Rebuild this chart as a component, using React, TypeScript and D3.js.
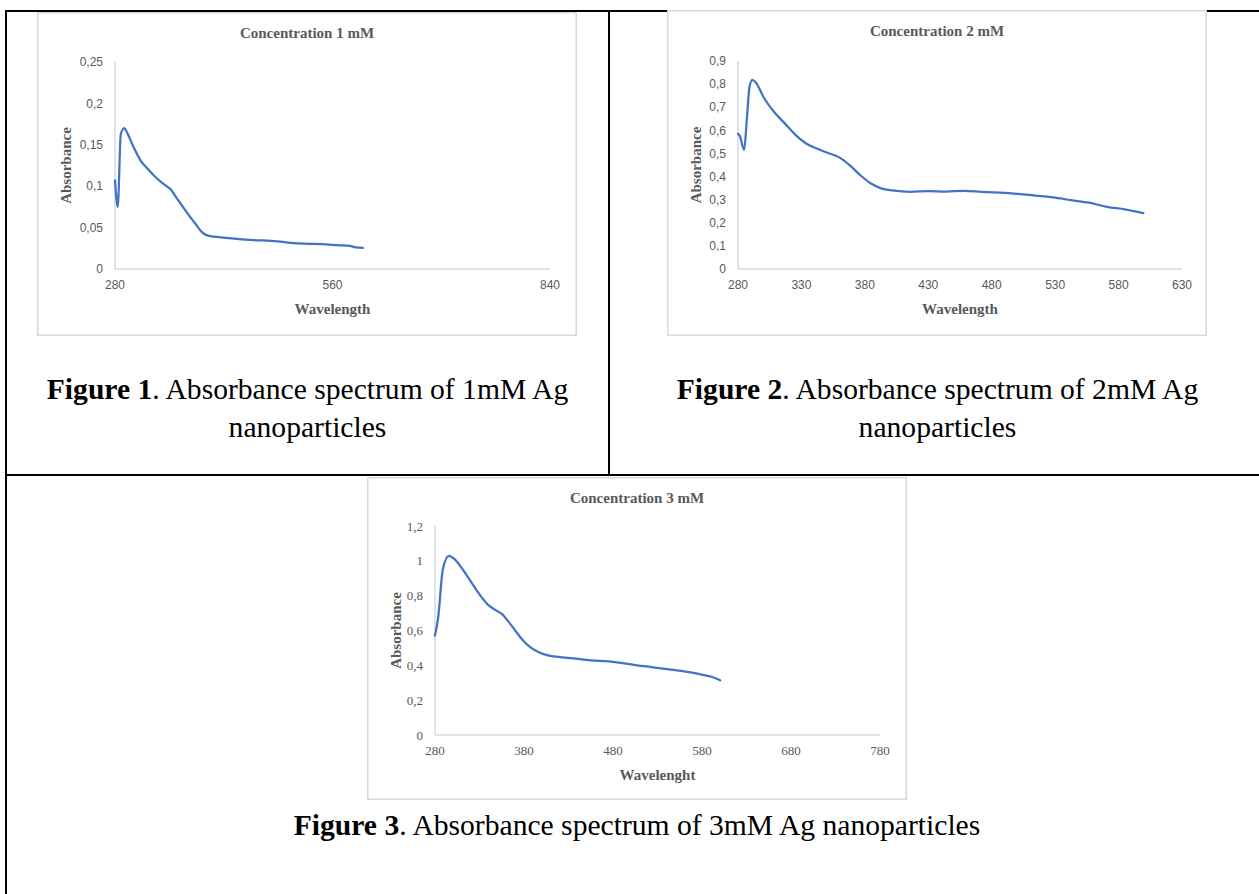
import React from 'react';
import * as d3 from 'd3';

// ---- Data ----
const WL_1MM = [280, 283.5, 287.5, 292, 295.4, 304, 313, 322, 331, 339.5, 348, 352, 357, 366, 375, 384, 392.5, 401, 419, 436.5, 458.5, 480.6, 502.6, 524.7, 546.7, 568.8, 582, 590, 599];
const ABS_1MM = [0.107, 0.075, 0.163, 0.170, 0.165, 0.147, 0.131, 0.121, 0.112, 0.105, 0.099, 0.096, 0.089, 0.077, 0.065, 0.054, 0.044, 0.040, 0.038, 0.0365, 0.035, 0.034, 0.032, 0.0306, 0.030, 0.0286, 0.028, 0.026, 0.0254];
const X_TICKS_1MM = [280, 560, 840];
const Y_TICKS_1MM = [0, 0.05, 0.1, 0.15, 0.2, 0.25];

const WL_2MM = [280, 281.5, 284.8, 287, 289, 291.3, 294, 300.3, 308.7, 317.2, 325.7, 334, 342.6, 351, 359.5, 368, 376.4, 384.8, 393.3, 401.7, 415.8, 430, 444, 458, 472, 486, 500, 514.4, 528.5, 542.6, 556.7, 570.8, 584.9, 599.5];
const ABS_2MM = [0.585, 0.575, 0.516, 0.65, 0.785, 0.818, 0.807, 0.742, 0.678, 0.628, 0.578, 0.542, 0.520, 0.502, 0.484, 0.449, 0.406, 0.370, 0.348, 0.340, 0.334, 0.337, 0.335, 0.338, 0.334, 0.330, 0.325, 0.318, 0.310, 0.298, 0.287, 0.269, 0.258, 0.242];
const X_TICKS_2MM = [280, 330, 380, 430, 480, 530, 580, 630];
const Y_TICKS_2MM = [0, 0.1, 0.2, 0.3, 0.4, 0.5, 0.6, 0.7, 0.8, 0.9];

const WL_3MM = [280, 283.6, 288.8, 295.6, 302, 310.9, 320.9, 331, 339.7, 349, 355, 363, 371, 379, 387, 395, 407, 419, 435, 455, 475, 491, 507, 523, 543, 563.5, 579.5, 591.5, 600.4];
const ABS_3MM = [0.571, 0.676, 0.952, 1.029, 1.01, 0.952, 0.876, 0.80, 0.747, 0.714, 0.695, 0.648, 0.594, 0.543, 0.505, 0.48, 0.457, 0.448, 0.44, 0.429, 0.423, 0.413, 0.40, 0.39, 0.377, 0.362, 0.347, 0.333, 0.314];
const X_TICKS_3MM = [280, 380, 480, 580, 680, 780];
const Y_TICKS_3MM = [0, 0.2, 0.4, 0.6, 0.8, 1, 1.2];

const SERIF = "'Liberation Serif', 'Times New Roman', serif";
const SANS = "'Liberation Sans', Arial, sans-serif";
const GREY = '#595959';
const AXIS = '#d9d9d9';
const BLUE = '#4472C4';

type ChartProps = {
  x: number; y: number; w: number; h: number;
  title: string; xTitle: string;
  wl: number[]; abs: number[];
  xTicks: number[]; yTicks: number[];
  m: { l: number; r: number; t: number; b: number };
  tickFont: string; tickSize: number;
};

function fmt(v: number) {
  return String(+v.toFixed(3)).replace('.', ',');
}

function Chart(p: ChartProps) {
  const { x, y, w, h, m } = p;
  const xs = d3.scaleLinear().domain([p.xTicks[0], p.xTicks[p.xTicks.length - 1]]).range([m.l, w - m.r]);
  const ys = d3.scaleLinear().domain([0, p.yTicks[p.yTicks.length - 1]]).range([h - m.b, m.t]);
  const pts = p.wl.map((d, i) => [d, p.abs[i]] as [number, number]);
  const line = d3.line<[number, number]>().x(d => xs(d[0])).y(d => ys(d[1])).curve(d3.curveMonotoneX);
  const bottom = h - m.b;
  const cx = (m.l + w - m.r) / 2;
  return (
    <g transform={`translate(${x},${y})`}>
      <rect x={0.75} y={0.75} width={w - 1.5} height={h - 1.5} fill="#fff" stroke={AXIS} strokeWidth={1.5} />
      <text x={w / 2} y={26} textAnchor="middle" fontFamily={SERIF} fontWeight="bold" fontSize={15} fill={GREY}>{p.title}</text>
      <line x1={xs.range()[0]} x2={xs.range()[0]} y1={ys.range()[1]} y2={bottom} stroke={AXIS} strokeWidth={1.5} />
      <line x1={xs.range()[0]} x2={xs.range()[1]} y1={bottom} y2={bottom} stroke={AXIS} strokeWidth={1.5} />
      {p.yTicks.map(t => (
        <text key={'y' + t} x={m.l - 12} y={ys(t)} dy="0.35em" textAnchor="end" fontFamily={p.tickFont} fontSize={p.tickSize} fill={GREY}>{fmt(t)}</text>
      ))}
      {p.xTicks.map(t => (
        <text key={'x' + t} x={xs(t)} y={bottom + 20} textAnchor="middle" fontFamily={p.tickFont} fontSize={p.tickSize} fill={GREY}>{t}</text>
      ))}
      <text x={cx} y={bottom + 45} textAnchor="middle" fontFamily={SERIF} fontWeight="bold" fontSize={15} fill={GREY}>{p.xTitle}</text>
      <text transform={`translate(${29},${(m.t + bottom) / 2}) rotate(-90)`} textAnchor="middle" dy="0.35em" fontFamily={SERIF} fontWeight="bold" fontSize={15} fill={GREY}>Absorbance</text>
      <path d={line(pts) || ''} fill="none" stroke={BLUE} strokeWidth={2.25} strokeLinejoin="round" strokeLinecap="round" />
    </g>
  );
}

function Caption({ x, y, num, rest, line2 }: { x: number; y: number; num: string; rest: string; line2?: string }) {
  return (
    <g fontFamily={SERIF} fontSize={29.6} fill="#000">
      <text x={x} y={y} textAnchor="middle">
        <tspan fontWeight="bold">{`Figure ${num}`}</tspan>
        <tspan>{rest}</tspan>
      </text>
      {line2 && <text x={x} y={y + 38} textAnchor="middle">{line2}</text>}
    </g>
  );
}

export default function App() {
  return (
    <svg width={1259} height={894} style={{ position: 'absolute', left: 0, top: 0, background: '#fff' }}>
      {/* table borders */}
      <line x1={5} x2={1259} y1={11} y2={11} stroke="#000" strokeWidth={2} />
      <line x1={6} x2={6} y1={10} y2={894} stroke="#000" strokeWidth={2} />
      <line x1={609} x2={609} y1={10} y2={476} stroke="#000" strokeWidth={2} />
      <line x1={5} x2={1259} y1={475} y2={475} stroke="#000" strokeWidth={2} />

      <Chart x={37} y={12} w={540} h={324} title="Concentration 1 mM" xTitle="Wavelength"
        wl={WL_1MM} abs={ABS_1MM} xTicks={X_TICKS_1MM} yTicks={Y_TICKS_1MM}
        m={{ l: 78, r: 27, t: 50, b: 67 }} tickFont={SANS} tickSize={12} />
      <Chart x={667} y={10} w={540} h={326} title="Concentration 2 mM" xTitle="Wavelength"
        wl={WL_2MM} abs={ABS_2MM} xTicks={X_TICKS_2MM} yTicks={Y_TICKS_2MM}
        m={{ l: 71, r: 25, t: 51, b: 67 }} tickFont={SANS} tickSize={12} />
      <Chart x={367} y={477} w={540} h={323} title="Concentration 3 mM" xTitle="Wavelenght"
        wl={WL_3MM} abs={ABS_3MM} xTicks={X_TICKS_3MM} yTicks={Y_TICKS_3MM}
        m={{ l: 68, r: 27, t: 49, b: 65 }} tickFont={SERIF} tickSize={13} />

      <Caption x={307.5} y={399} num="1" rest=". Absorbance spectrum of 1mM Ag" line2="nanoparticles" />
      <Caption x={937.5} y={399} num="2" rest=". Absorbance spectrum of 2mM Ag" line2="nanoparticles" />
      <Caption x={637} y={835} num="3" rest=". Absorbance spectrum of 3mM Ag nanoparticles" />
    </svg>
  );
}
